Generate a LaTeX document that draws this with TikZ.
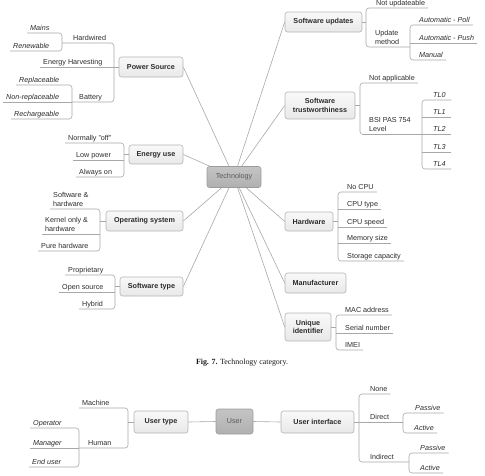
\documentclass[tikz,border=0pt]{standalone}
\usepackage{fontspec}
\setmainfont{Liberation Sans}
\newfontfamily\capfont{Liberation Serif}
\usetikzlibrary{backgrounds}
\definecolor{ln}{HTML}{A8A8A8}
\definecolor{bx}{HTML}{B4B4B4}
\definecolor{bxt}{HTML}{F9F9F9}
\definecolor{bxb}{HTML}{E8E8E8}
\definecolor{hbt}{HTML}{C4C4C4}
\definecolor{hbb}{HTML}{B0B0B0}
\definecolor{hbd}{HTML}{9C9C9C}
\definecolor{tx}{HTML}{2B2B2B}
\definecolor{htx}{HTML}{5A5A5A}
\begin{document}
\begin{tikzpicture}[x=1pt,y=-1pt,
  font=\fontsize{7.2}{8.7}\selectfont,
  con/.style={draw=ln, line width=0.6pt},
  bk/.style={con, rounded corners=3pt},
  box/.style={draw=bx, line width=0.6pt, rounded corners=2.5pt, top color=bxt, bottom color=bxb,
    font=\fontsize{7.2}{8.2}\selectfont\bfseries, text=tx, align=center, inner sep=0pt},
  core/.style={box, top color=hbt, bottom color=hbb, draw=hbd, font=\fontsize{7.2}{8.2}\selectfont, text=htx},
  lab/.style={inner xsep=3pt, inner ysep=1pt, text height=5.4pt, text depth=1.6pt, anchor=south west, text=tx},
  lab2/.style={inner xsep=3pt, inner ysep=2.6pt, align=left, anchor=south west, text=tx},
  it/.style={font=\fontsize{7.2}{8.7}\selectfont\itshape}
]
\useasboundingbox (0,0) rectangle (485,475);

% ---------- main boxes ----------
\node[core, minimum width=54pt, minimum height=21pt] (tech) at (234,177) {Technology};
\node[box, minimum width=64pt, minimum height=20pt] (ps) at (151,67) {Power Source};
\node[box, minimum width=54pt, minimum height=19pt] (eu) at (156,154.5) {Energy use};
\node[box, minimum width=77pt, minimum height=20pt] (os) at (144.5,221) {Operating system};
\node[box, minimum width=63pt, minimum height=19pt] (st) at (151.5,286.5) {Software type};
\node[box, minimum width=77pt, minimum height=20pt] (su) at (323.5,22) {Software updates};
\node[box, minimum width=70pt, minimum height=27pt] (sw) at (320,105.5) {Software\\trustworthiness};
\node[box, minimum width=48pt, minimum height=19pt] (hw) at (309,221.5) {Hardware};
\node[box, minimum width=61pt, minimum height=20pt] (mf) at (315.5,283) {Manufacturer};
\node[box, minimum width=46pt, minimum height=28pt] (ui) at (308,327) {Unique\\identifier};

\begin{scope}[on background layer]
\foreach \n/\a in {ps/east, eu/east, os/east, st/east, su/west, sw/west, hw/west, mf/west, ui/west}
  \draw[con] (\n.\a) -- (tech.center);
\end{scope}

% ---------- Power Source ----------
\coordinate (psb) at (114,67);
\coordinate (hwb) at (62,43);
\coordinate (btb) at (72,102);
\node[lab] (hwd) at (70,43) {Hardwired};
\node[lab] (eh) at (40,67) {Energy Harvesting};
\node[lab] (bat) at (76,102) {Battery};
\node[lab,it] (mains) at (27,33) {Mains};
\node[lab,it] (renw) at (10,51) {Renewable};
\node[lab,it] (repl) at (16,85) {Replaceable};
\node[lab,it] (nrepl) at (3,102) {Non-replaceable};
\node[lab,it] (rech) at (11,119) {Rechargeable};
\draw[con] (ps.west) -- (ps.west -| psb);
\draw[bk] (hwb) -- (hwb -| psb) -- (btb -| psb) -- (btb);
\draw[con] (eh.south west) -- (eh.south west -| psb);
\draw[bk] (mains.south west) -- (mains.south west -| hwb) -- (renw.south west -| hwb) -- (renw.south west);
\draw[bk] (repl.south west) -- (repl.south west -| btb) -- (rech.south west -| btb) -- (rech.south west);
\draw[con] (nrepl.south west) -- (nrepl.south west -| btb);

% ---------- Energy use ----------
\coordinate (eub) at (124,154.5);
\node[lab] (nof) at (65,143) {Normally "off"};
\node[lab] (lowp) at (73,160) {Low power};
\node[lab] (alw) at (76,177) {Always on};
\draw[con] (eu.west) -- (eu.west -| eub);
\draw[bk] (nof.south west) -- (nof.south west -| eub) -- (alw.south west -| eub) -- (alw.south west);
\draw[con] (lowp.south west) -- (lowp.south west -| eub);

% ---------- Operating system ----------
\coordinate (osb) at (100,221);
\node[lab2] (swhw) at (50,209) {Software \&\\hardware};
\node[lab2] (kern) at (42,234) {Kernel only \&\\hardware};
\node[lab] (pure) at (38,251) {Pure hardware};
\draw[con] (os.west) -- (os.west -| osb);
\draw[bk] (swhw.south west) -- (swhw.south west -| osb) -- (pure.south west -| osb) -- (pure.south west);
\draw[con] (kern.south west) -- (kern.south west -| osb);

% ---------- Software type ----------
\coordinate (stb) at (115,286.5);
\node[lab] (prop) at (65,275) {Proprietary};
\node[lab] (opens) at (59,292) {Open source};
\node[lab] (hyb) at (79,309) {Hybrid};
\draw[con] (st.west) -- (st.west -| stb);
\draw[bk] (prop.south west) -- (prop.south west -| stb) -- (hyb.south west -| stb) -- (hyb.south west);
\draw[con] (opens.south west) -- (opens.south west -| stb);

% ---------- Software updates ----------
\coordinate (sub) at (366,22);
\coordinate (umb) at (410,47);
\node[lab] (nupd) at (373,8) {Not updateable};
\node[lab2] (umeth) at (372,47) {Update\\method};
\node[lab,it] (poll) at (416,25) {Automatic - Poll};
\node[lab,it] (push) at (416,43) {Automatic - Push};
\node[lab,it] (man) at (416,60) {Manual};
\draw[con] (su.east) -- (su.east -| sub);
\draw[bk] (nupd.south east) -- (nupd.south east -| sub) -- (umb -| sub) -- (umb);
\draw[bk] (poll.south east) -- (poll.south east -| umb) -- (man.south east -| umb) -- (man.south east);
\draw[con] (push.south east) -- (push.south east -| umb);

% ---------- Software trustworthiness ----------
\coordinate (swb) at (360,105.5);
\coordinate (bsb) at (422,134.5);
\node[lab] (napp) at (366,83) {Not applicable};
\node[lab2] (bsi) at (366,134.5) {BSI PAS 754\\Level};
\node[lab,it,text width=15pt,align=left] (tl0) at (430,100) {TL0};
\node[lab,it,text width=15pt,align=left] (tl1) at (430,117) {TL1};
\node[lab,it,text width=15pt,align=left] (tl2) at (430,134.5) {TL2};
\node[lab,it,text width=15pt,align=left] (tl3) at (430,152) {TL3};
\node[lab,it,text width=15pt,align=left] (tl4) at (430,169) {TL4};
\draw[con] (sw.east) -- (sw.east -| swb);
\draw[bk] (napp.south east) -- (napp.south east -| swb) -- (bsb -| swb) -- (bsb);
\draw[bk] (tl0.south east) -- (tl0.south east -| bsb) -- (tl4.south east -| bsb) -- (tl4.south east);
\foreach \t in {tl1,tl2,tl3} \draw[con] (\t.south east) -- (\t.south east -| bsb);

% ---------- Hardware ----------
\coordinate (hwg) at (338,221.5);
\node[lab] (nocpu) at (344,192) {No CPU};
\node[lab] (cput) at (344,209) {CPU type};
\node[lab] (cpus) at (344,227) {CPU speed};
\node[lab] (mem) at (344,243) {Memory size};
\node[lab] (stor) at (344,261) {Storage capacity};
\draw[con] (hw.east) -- (hw.east -| hwg);
\draw[bk] (nocpu.south east) -- (nocpu.south east -| hwg) -- (stor.south east -| hwg) -- (stor.south east);
\foreach \t in {cput,cpus,mem} \draw[con] (\t.south east) -- (\t.south east -| hwg);

% ---------- Unique identifier ----------
\coordinate (uib) at (336,327);
\node[lab] (mac) at (342,315) {MAC address};
\node[lab] (ser) at (342,333) {Serial number};
\node[lab] (imei) at (342,350) {IMEI};
\draw[con] (ui.east) -- (ui.east -| uib);
\draw[bk] (mac.south east) -- (mac.south east -| uib) -- (imei.south east -| uib) -- (imei.south east);
\draw[con] (ser.south east) -- (ser.south east -| uib);

% ---------- caption ----------
\node[font=\capfont\fontsize{7.9}{9}\selectfont, text=black!90] (cap) at (242,363) {\textbf{Fig. 7.} Technology category.};

% ---------- User ----------
\node[core, minimum width=37pt, minimum height=25pt] (user) at (234.5,421.5) {User};
\node[box, minimum width=54pt, minimum height=22pt] (ut) at (161,422) {User type};
\node[box, minimum width=73pt, minimum height=22pt] (uif) at (317.5,422) {User interface};
\draw[con] (ut.east) -- (user.west);
\draw[con] (user.east) -- (uif.west);

\coordinate (utb) at (128,422);
\coordinate (humb) at (79,448);
\node[lab] (mach) at (79,408) {Machine};
\node[lab] (hum) at (85,448) {Human};
\node[lab,it] (oper) at (30,428) {Operator};
\node[lab,it] (mgr) at (30,448) {Manager};
\node[lab,it] (endu) at (29,467) {End user};
\draw[con] (ut.west) -- (ut.west -| utb);
\draw[bk] (mach.south west) -- (mach.south west -| utb) -- (humb -| utb) -- (humb);
\draw[bk] (oper.south west) -- (oper.south west -| humb) -- (endu.south west -| humb) -- (endu.south west);
\draw[con] (mgr.south west) -- (mgr.south west -| humb);

\coordinate (uifb) at (359,422);
\coordinate (dib) at (403,422);
\coordinate (inb) at (409,462);
\node[lab] (none) at (367,394) {None};
\node[lab] (dir) at (367,422) {Direct};
\node[lab] (indir) at (367,462) {Indirect};
\node[lab,it] (dpas) at (412,413) {Passive};
\node[lab,it] (dact) at (411,433) {Active};
\node[lab,it] (ipas) at (417,453) {Passive};
\node[lab,it] (iact) at (417,473) {Active};
\draw[con] (uif.east) -- (uif.east -| uifb);
\draw[bk] (none.south east) -- (none.south east -| uifb) -- (inb -| uifb) -- (inb);
\draw[con] (dib -| uifb) -- (dib);
\draw[bk] (dpas.south east) -- (dpas.south east -| dib) -- (dact.south east -| dib) -- (dact.south east);
\draw[bk] (ipas.south east) -- (ipas.south east -| inb) -- (iact.south east -| inb) -- (iact.south east);
\end{tikzpicture}
\end{document}
